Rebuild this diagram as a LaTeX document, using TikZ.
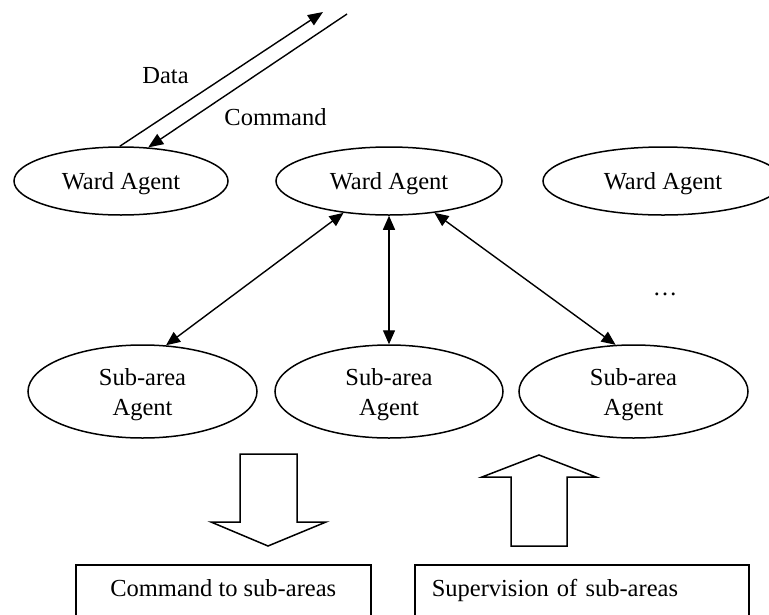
\documentclass[tikz,border=0pt]{standalone}
\usepackage{fontspec}
\setmainfont{Liberation Serif}
\usetikzlibrary{shapes.geometric,arrows.meta}
\tikzset{
  lbl/.style={font=\fontsize{24.5}{30}\selectfont, inner sep=0pt},
  agent/.style={lbl, draw, ellipse, line width=1.5pt, text depth=0pt, align=center},
  link/.style={line width=1.4pt, {Triangle[length=14pt,width=12pt]}-{Triangle[length=14pt,width=12pt]}},
  oneway/.style={line width=1.4pt, -{Triangle[length=15pt,width=12pt]}},
  blockarrow/.style={draw, line width=1.5pt, line join=miter},
  infobox/.style={lbl, draw, line width=1.5pt, anchor=north west, text height=32pt, text depth=30pt}
}
\begin{document}
\begin{tikzpicture}[x=1pt,y=-1pt]
\useasboundingbox (0,0) rectangle (769,614);
% ward agents
\node[agent, minimum width=214pt, minimum height=68pt] (wl) at (121,181) {Ward Agent};
\node[agent, minimum width=226pt, minimum height=68pt] (wm) at (389,181) {Ward Agent};
\node[agent, minimum width=240pt, minimum height=68pt] (wr) at (663,181) {Ward Agent};
% sub-area agents
\node[agent, minimum width=229pt, minimum height=93pt] (sl) at (142.5,391.5) {Sub-area\\Agent};
\node[agent, minimum width=228pt, minimum height=93pt] (sm) at (389,391.5) {Sub-area\\Agent};
\node[agent, minimum width=229pt, minimum height=93pt] (sr) at (633.5,391.5) {Sub-area\\Agent};
% data / command
\coordinate (dataend) at (323,12);
\coordinate (cmdstart) at (347,14);
\draw[oneway] (wl.92) -- (dataend);
\draw[oneway] (cmdstart) -- (wl.51);
\node[lbl, anchor=base] (datalbl) at (165.5,83) {Data};
\node[lbl, anchor=base] (cmdlbl) at (275.5,125) {Command};
% links
\draw[link] (wm.215) -- (sl.63);
\draw[link] (wm.south) -- (sm.north);
\draw[link] (wm.325) -- (sr.111);
\node[lbl, anchor=base] (dots) at (665,295) {…};
% block arrows
\draw[blockarrow] (240,454) -- (297,454) -- (297,522) -- (326,522) -- (268,546) -- (211,522) -- (240,522) -- cycle;
\draw[blockarrow] (539,455) -- (596,477) -- (567,477) -- (567,546) -- (511,546) -- (511,477) -- (482,477) -- cycle;
% boxes
\node[infobox, minimum width=295pt, inner xsep=0pt, inner ysep=0pt] (cmdbox) at (75,564) {Command to sub-areas};
\node[infobox, text width=300pt, align=left, inner xsep=17pt, inner ysep=0pt] (supbox) at (414,564) {Supervision of sub-areas};
\end{tikzpicture}
\end{document}
